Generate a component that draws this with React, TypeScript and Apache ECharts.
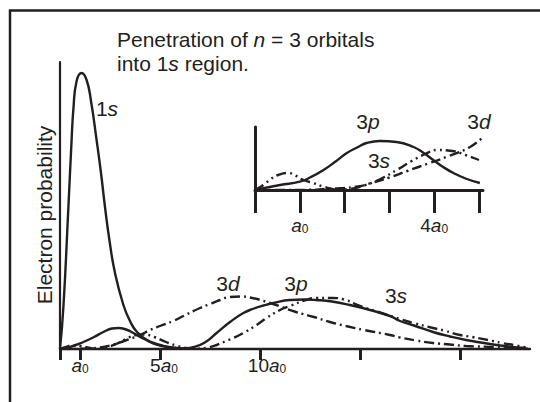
import React, { useEffect, useRef } from 'react';
import * as echarts from 'echarts';

const INK = '#231f20';
const FONT = '"Liberation Sans", Arial, Helvetica, sans-serif';

// ---- main plot: x in units of a0, y = relative electron probability ----
const mainTickValues = [0, 1, 5, 10, 15, 20];
const mainLabelValues = [1, 5, 10];

const curve1s = [
  [0, 0], [0.17, 42], [0.42, 142], [0.58, 209], [0.67, 240], [0.83, 268], [1.08, 276],
  [1.33, 269], [1.55, 248], [1.83, 209], [2.05, 176], [2.25, 142], [2.47, 109],
  [2.75, 76], [3.17, 44], [3.5, 28], [3.85, 17], [4.5, 7], [5.0, 3.5], [5.65, 1.5], [6.3, 0.3],
];
const curve3p = [
  [0, 0], [0.5, 2], [1.17, 7], [1.7, 12], [2.17, 17], [2.6, 20.5], [2.92, 21], [3.3, 19.5],
  [3.67, 16], [4.1, 11], [4.5, 7.5], [5.0, 4], [5.5, 1.5], [6.1, 0.3], [6.6, 1.5], [7.2, 6],
  [7.83, 16], [8.5, 27], [9.17, 36], [9.7, 40.5], [10.17, 43.5], [10.67, 46], [11.5, 49],
  [12.2, 49.5], [12.8, 49], [13.6, 47.5], [14.5, 44], [15.5, 39], [16.5, 33], [17, 28],
  [17.7, 23.5], [18.65, 17], [19.5, 12.5], [20.3, 9], [21.2, 6], [22, 3.5], [23.3, 1],
];
const curve3d = [
  [0, 0], [1, 0.2], [2, 1.5], [2.6, 4], [3.2, 8], [4, 14], [4.5, 19], [5, 23], [5.67, 28],
  [6.17, 33], [7, 41], [7.5, 45], [8, 49], [8.5, 52], [9, 52.5], [9.5, 51.5], [10.5, 46],
  [11.8, 37], [12.7, 32], [13.5, 27], [14.3, 23], [15.2, 19], [16.5, 14], [17, 11.5],
  [17.8, 8.5], [18.65, 6], [19.5, 4.5], [20.3, 3], [21.7, 2], [22.5, 1], [23.4, 0.3],
];
const curve3s = [
  [0, 0], [0.3, 2], [0.6, 3.5], [1.0, 3], [1.5, 1], [1.9, 0.2], [2.3, 1.5], [2.8, 5],
  [3.3, 10], [3.8, 14], [4.2, 14.5], [4.7, 12], [5.3, 7], [5.8, 3.5], [6.3, 1], [6.9, 0.2],
  [7.4, 1.5], [7.83, 4], [8.3, 8], [8.67, 11], [9.17, 16], [9.83, 24], [10.33, 31], [11, 39],
  [11.5, 43], [12.3, 49], [12.8, 51], [13.6, 51], [14.2, 49.5], [15, 43], [16, 36.5],
  [17, 30], [17.7, 26], [18.65, 21], [19.2, 18.5], [20, 14], [20.6, 12], [21.4, 9],
  [22.1, 6], [22.8, 3.5], [23.4, 1],
];

// ---- inset: magnified view of the region close to the nucleus ----
const insetTickValues = [0, 1, 2, 3, 4, 5];
const insetLabelValues = [1, 4];

const inset3p = [
  [0, 0], [0.56, 5], [1.0, 8.3], [1.25, 13], [1.53, 20], [1.8, 28.5], [2.05, 37], [2.3, 43],
  [2.49, 47], [2.79, 49], [3.16, 48], [3.54, 43], [3.75, 37.5], [3.98, 30], [4.2, 23],
  [4.43, 17], [4.7, 11.5], [5.02, 7],
];
const inset3d = [
  [0, 0], [1.2, 0.2], [1.6, 1.2], [1.9, 1.8], [2.3, 3.5], [2.6, 7], [3.0, 12.5], [3.4, 19],
  [3.9, 27], [4.3, 33.5], [4.8, 43], [5.09, 53],
];
const inset3s = [
  [0, 0], [0.1, 2.5], [0.22, 6], [0.35, 11], [0.52, 15], [0.74, 17], [0.9, 14.5], [1.08, 10],
  [1.3, 7], [1.55, 3], [1.85, 0.5], [2.1, 1], [2.4, 4], [2.8, 11], [3.2, 21], [3.5, 29],
  [3.8, 36], [4.06, 40], [4.4, 39], [4.7, 35], [5.0, 30],
];

const DASH_DOT = [10, 4, 2, 4];
const DASH_DOT_DOT = [10, 4, 2, 4, 2, 4];

const TS = 19;
const tickRich = {
  n: { fontSize: TS, fontFamily: FONT, color: INK, lineHeight: 22, verticalAlign: 'bottom' },
  n5: { fontSize: TS, fontFamily: FONT, color: INK, lineHeight: 22, verticalAlign: 'bottom', padding: [0, 0, 0, 8] },
  n10: { fontSize: TS, fontFamily: FONT, color: INK, lineHeight: 22, verticalAlign: 'bottom', padding: [0, 0, 0, 14] },
  a: { fontSize: TS, fontFamily: FONT, color: INK, fontStyle: 'italic', lineHeight: 22, verticalAlign: 'bottom' },
  s: { fontSize: 12, fontFamily: FONT, color: INK, lineHeight: 10, verticalAlign: 'bottom' },
};

function mainLabel(v: number) {
  if (v === 1) return '{a|a}{s|0}';
  if (v === 5) return '{n5|5}{a|a}{s|0}';
  return '{n10|10}{a|a}{s|0}';
}
function insetLabel(v: number) {
  if (v === 1) return '{a|a}{s|0}';
  return '{n|4}{a|a}{s|0}';
}

function lineSeries(data: number[][], idx: number, type: any, width = 2.4) {
  return {
    type: 'line',
    xAxisIndex: idx,
    yAxisIndex: idx,
    data,
    symbol: 'none',
    showSymbol: false,
    smooth: 0.5,
    silent: true,
    lineStyle: { color: INK, width, type },
  };
}

function textEl(text: string, x: number, y: number, size: number, align = 'center', extra: any = {}) {
  const it = { fontStyle: 'italic', fontSize: size, fontFamily: FONT, fill: INK };
  return {
    type: 'text',
    x,
    y,
    silent: true,
    ...extra,
    style: {
      text,
      fontSize: size,
      fontFamily: FONT,
      fill: INK,
      align,
      verticalAlign: 'middle',
      rich: { i: it },
    },
  };
}

export default function App() {
  const ref = useRef<HTMLDivElement>(null);
  useEffect(() => {
    if (!ref.current) return;
    const chart = echarts.init(ref.current, undefined, { renderer: 'svg' });
    chart.setOption({
      animation: false,
      backgroundColor: '#ffffff',
      grid: [
        { left: 60, top: 62, width: 470, height: 287, outerBoundsMode: 'none', containLabel: false },
        { left: 255, top: 127, width: 228, height: 63, outerBoundsMode: 'none', containLabel: false },
      ],
      xAxis: [
        {
          type: 'value', gridIndex: 0, min: 0, max: 23.5,
          axisLine: { show: true, onZero: false, lineStyle: { color: INK, width: 2.4 } },
          axisTick: { show: true, customValues: mainTickValues, length: 11, lineStyle: { color: INK, width: 3 } },
          axisLabel: { show: true, customValues: mainLabelValues, margin: 4, formatter: mainLabel, rich: tickRich },
          splitLine: { show: false },
        },
        {
          type: 'value', gridIndex: 1, min: 0, max: 5.09,
          axisLine: { show: true, onZero: false, lineStyle: { color: INK, width: 3 } },
          axisTick: { show: true, customValues: insetTickValues, length: 23, lineStyle: { color: INK, width: 3 } },
          axisLabel: { show: true, customValues: insetLabelValues, margin: 23, formatter: insetLabel, rich: tickRich },
          splitLine: { show: false },
        },
      ],
      yAxis: [
        {
          type: 'value', gridIndex: 0, min: 0, max: 287,
          axisLine: { show: true, onZero: false, lineStyle: { color: INK, width: 2.2 } },
          axisTick: { show: false }, axisLabel: { show: false }, splitLine: { show: false },
        },
        {
          type: 'value', gridIndex: 1, min: 0, max: 63,
          axisLine: { show: true, onZero: false, lineStyle: { color: INK, width: 3 } },
          axisTick: { show: false }, axisLabel: { show: false }, splitLine: { show: false },
        },
      ],
      series: [
        lineSeries(curve1s, 0, 'solid'),
        lineSeries(curve3p, 0, 'solid'),
        lineSeries(curve3d, 0, DASH_DOT),
        lineSeries(curve3s, 0, DASH_DOT_DOT),
        lineSeries(inset3p, 1, 'solid'),
        lineSeries(inset3d, 1, DASH_DOT),
        lineSeries(inset3s, 1, DASH_DOT_DOT),
      ],
      graphic: [
        {
          type: 'rect', silent: true,
          shape: { x: 10, y: 10.5, width: 620, height: 500 },
          style: { fill: 'none', stroke: INK, lineWidth: 2.5 },
        },
        textEl('Penetration of {i|n} = 3 orbitals', 117, 39, 21, 'left'),
        textEl('into 1{i|s} region.', 117, 63, 21, 'left'),
        textEl('Electron probability', 44, 215, 21, 'center', { rotation: Math.PI / 2 }),
        textEl('1{i|s}', 107, 108, 21),
        textEl('3{i|d}', 228, 283, 21),
        textEl('3{i|p}', 296, 283, 21),
        textEl('3{i|s}', 396, 295, 21),
        textEl('3{i|p}', 368, 121, 21),
        textEl('3{i|d}', 479, 121, 21),
        textEl('3{i|s}', 379, 160, 21),
      ],
    });
    return () => chart.dispose();
  }, []);
  return (
    <div
      ref={ref}
      style={{ position: 'absolute', left: 0, top: 0, width: 540, height: 402, background: '#fff' }}
    />
  );
}
